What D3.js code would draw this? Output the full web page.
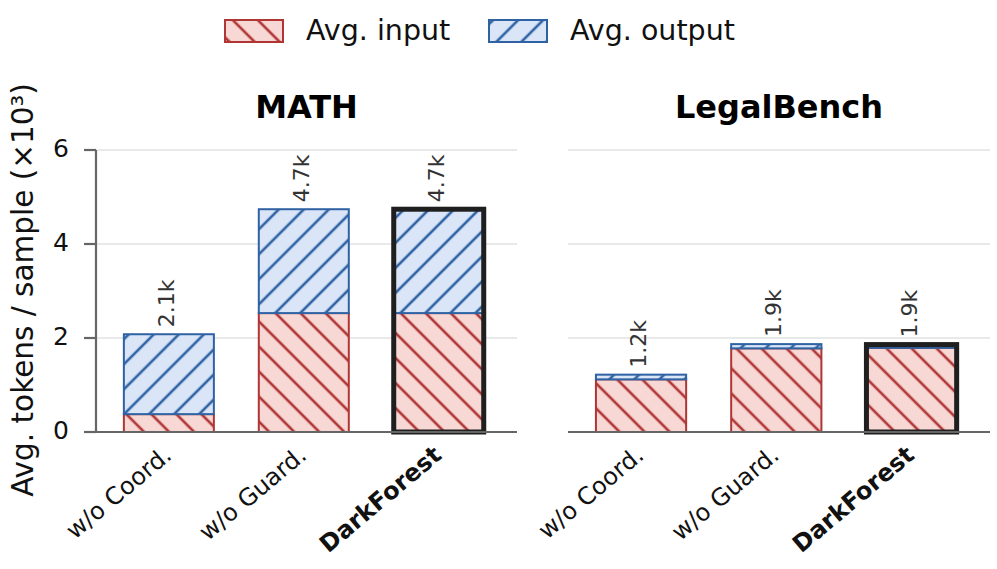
<!DOCTYPE html>
<html lang="en">
<head>
<meta charset="UTF-8">
<title>Avg tokens per sample</title>
<script src="https://d3js.org/d3.v7.min.js"></script>
<style>
  body { margin: 0; background: #fff; }
  text { font-family: "DejaVu Sans", sans-serif; }
</style>
</head>
<body>
<script>
// data (x10^3 tokens)
var variants = ["w/o Coord.", "w/o Guard.", "DarkForest"];
var datasets = ["MATH", "LegalBench"];
var avgInput = [[0.38, 2.53, 2.53], [1.12, 1.78, 1.79]];
var avgOutput = [[1.70, 2.21, 2.21], [0.10, 0.09, 0.07]];
var yTicks = [0, 2, 4, 6];

var width = 997, height = 569;
var panels = [{x0: 96, x1: 517}, {x0: 568, x1: 990}];

var svg = d3.select("body").append("svg")
    .attr("width", width)
    .attr("height", height);

// hatch patterns
var defs = svg.append("defs");
function hatch(id, fill, stroke, angle) {
    var s = 17.7;
    var p = defs.append("pattern")
        .attr("id", id)
        .attr("patternUnits", "userSpaceOnUse")
        .attr("width", s).attr("height", s)
        .attr("patternTransform", "rotate(" + angle + ")");
    p.append("rect").attr("width", s).attr("height", s).attr("fill", fill);
    p.append("line").attr("x1", 0).attr("x2", s).attr("y1", s / 2).attr("y2", s / 2)
        .attr("stroke", stroke).attr("stroke-width", 2.6);
}
var inColor = "#b03535", outColor = "#2f62a3";
hatch("hIn", "#f8d8d5", inColor, 45);
hatch("hOut", "#dae6f8", outColor, -45);

var y = d3.scaleLinear().domain([0, 6]).range([432, 150]);

panels.forEach(function(pn, pi) {
    var x = d3.scaleLinear().domain([-0.54, 2.58]).range([pn.x0, pn.x1]);
    var bw = x(0.667) - x(0);
    var g = svg.append("g");

    // gridlines
    g.selectAll(".grid").data(yTicks.slice(1)).enter().append("line")
        .attr("x1", pn.x0).attr("x2", pn.x1)
        .attr("y1", function(d) { return y(d); })
        .attr("y2", function(d) { return y(d); })
        .attr("stroke", "#e2e2e2").attr("stroke-width", 1.5);

    // title
    g.append("text")
        .attr("x", (pn.x0 + pn.x1) / 2).attr("y", 118)
        .attr("text-anchor", "middle")
        .attr("font-size", 32).attr("font-weight", "bold")
        .text(datasets[pi]);

    variants.forEach(function(v, i) {
        var cx = x(i);
        var inp = avgInput[pi][i], out = avgOutput[pi][i];
        g.append("rect")
            .attr("x", cx - bw / 2).attr("width", bw)
            .attr("y", y(inp)).attr("height", y(0) - y(inp))
            .attr("fill", "url(#hIn)").attr("stroke", inColor).attr("stroke-width", 2);
        g.append("rect")
            .attr("x", cx - bw / 2).attr("width", bw)
            .attr("y", y(inp + out)).attr("height", y(inp) - y(inp + out))
            .attr("fill", "url(#hOut)").attr("stroke", outColor).attr("stroke-width", 2);
        if (v === "DarkForest") {
            g.append("rect")
                .attr("x", cx - bw / 2).attr("width", bw)
                .attr("y", y(inp + out)).attr("height", y(0) - y(inp + out))
                .attr("fill", "none").attr("stroke", "#1f1f1f").attr("stroke-width", 5);
        }
        // value label
        var total = inp + out;
        g.append("text")
            .attr("transform", "translate(" + (cx - 1) + "," + (y(total) - 7) + ") rotate(-90)")
            .attr("dominant-baseline", "middle")
            .attr("font-size", 22).attr("fill", "#333")
            .text(total.toFixed(1) + "k");
        // x tick label
        g.append("text")
            .attr("transform", "translate(" + (cx - 7) + "," + 444 + ") rotate(-40)")
            .attr("text-anchor", "end")
            .attr("dominant-baseline", "hanging")
            .attr("font-size", 24)
            .attr("font-weight", v === "DarkForest" ? "bold" : "normal")
            .attr("fill", "#111")
            .text(v);
    });

    // bottom spine
    g.append("line")
        .attr("x1", pn.x0).attr("x2", pn.x1)
        .attr("y1", y(0)).attr("y2", y(0))
        .attr("stroke", "#666").attr("stroke-width", 2.2);

    if (pi === 0) {
        g.append("line")
            .attr("x1", pn.x0).attr("x2", pn.x0)
            .attr("y1", y(6)).attr("y2", y(0) + 1)
            .attr("stroke", "#666").attr("stroke-width", 2.2);
        g.selectAll(".tick").data(yTicks).enter().append("line")
            .attr("x1", pn.x0 - 12).attr("x2", pn.x0)
            .attr("y1", function(d) { return y(d); })
            .attr("y2", function(d) { return y(d); })
            .attr("stroke", "#666").attr("stroke-width", 2.2);
        g.selectAll(".tl").data(yTicks).enter().append("text")
            .attr("x", pn.x0 - 27).attr("y", function(d) { return y(d); })
            .attr("text-anchor", "end").attr("dominant-baseline", "middle")
            .attr("font-size", 25).attr("fill", "#111")
            .text(function(d) { return d; });
    }
});

// y label
svg.append("text")
    .attr("transform", "translate(24,290) rotate(-90)")
    .attr("text-anchor", "middle").attr("dominant-baseline", "middle")
    .attr("font-size", 29.5).attr("fill", "#111")
    .text("Avg. tokens / sample (×10³)");

// legend
var legend = [{label: "Avg. input", fill: "url(#hIn)", stroke: inColor, x: 225},
              {label: "Avg. output", fill: "url(#hOut)", stroke: outColor, x: 489}];
legend.forEach(function(l) {
    svg.append("rect")
        .attr("x", l.x).attr("y", 20).attr("width", 58).attr("height", 22)
        .attr("fill", l.fill).attr("stroke", l.stroke).attr("stroke-width", 2);
    svg.append("text")
        .attr("x", l.x + 81).attr("y", 32)
        .attr("dominant-baseline", "middle")
        .attr("font-size", 28.5).attr("fill", "#111")
        .text(l.label);
});
</script>
</body>
</html>
